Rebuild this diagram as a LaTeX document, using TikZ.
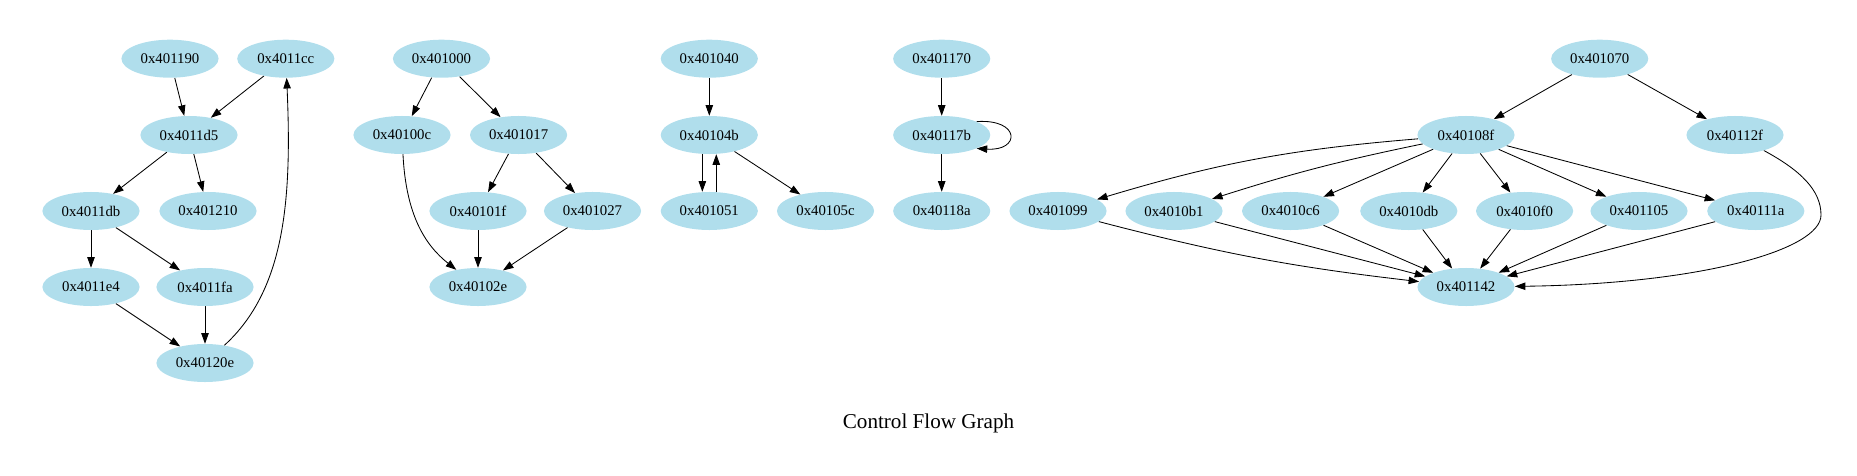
\documentclass[tikz,border=0pt]{standalone}
\usepackage{fontspec}
\setmainfont{Liberation Serif}
\usepackage{tikz}
\usetikzlibrary{shapes.geometric}
\usetikzlibrary{arrows.meta}
\definecolor{blockblue}{RGB}{176,222,236}
\pgfdeclarelayer{nodelayer}
\pgfdeclarelayer{edgelayer}
\pgfsetlayers{edgelayer,nodelayer,main}
\tikzstyle{none}=[inner sep=-1pt]
\tikzstyle{block}=[shape=ellipse, fill=blockblue, draw=none, minimum width=92pt, minimum height=36pt, inner sep=0pt, font=\fontsize{14}{16}\selectfont]
\tikzset{flow/.style={line width=.8pt, -{Triangle[length=10pt, width=7pt]}}}

\begin{document}
\begin{tikzpicture}[x=0.947pt, y=-0.947pt]
        \useasboundingbox (0, 0) rectangle (1857, 476);
        \begin{pgfonlayer}{nodelayer}
            \node [style=block] (0) at (170, 58.7) {0x401190};
            \node [style=block] (1) at (285.8, 58.7) {0x4011cc};
            \node [style=block] (2) at (189, 135) {0x4011d5};
            \node [style=block] (3) at (91, 211) {0x4011db};
            \node [style=block] (4) at (208, 211) {0x401210};
            \node [style=block] (5) at (91, 287) {0x4011e4};
            \node [style=block] (6) at (205, 287) {0x4011fa};
            \node [style=block] (7) at (205, 363) {0x40120e};
            \node [style=block] (8) at (441.5, 58.7) {0x401000};
            \node [style=block] (9) at (402, 135) {0x40100c};
            \node [style=block] (10) at (518.6, 135) {0x401017};
            \node [style=block] (11) at (478, 211) {0x40101f};
            \node [style=block] (12) at (592.5, 211) {0x401027};
            \node [style=block] (13) at (478, 287) {0x40102e};
            \node [style=block] (14) at (709.3, 58.7) {0x401040};
            \node [style=block] (15) at (709.3, 135) {0x40104b};
            \node [style=block] (16) at (709.3, 211) {0x401051};
            \node [style=block] (17) at (825.5, 211) {0x40105c};
            \node [style=block] (18) at (941.7, 58.7) {0x401170};
            \node [style=block] (19) at (941.7, 135) {0x40117b};
            \node [style=block] (20) at (941.7, 211) {0x40118a};
            \node [style=block] (21) at (1599.7, 58.7) {0x401070};
            \node [style=block] (22) at (1466, 135) {0x40108f};
            \node [style=block] (23) at (1735, 135) {0x40112f};
            \node [style=block] (24) at (1058, 211) {0x401099};
            \node [style=block] (25) at (1174, 211) {0x4010b1};
            \node [style=block] (26) at (1290.6, 211) {0x4010c6};
            \node [style=block] (27) at (1408.8, 211) {0x4010db};
            \node [style=block] (28) at (1524.6, 211) {0x4010f0};
            \node [style=block] (29) at (1639, 211) {0x401105};
            \node [style=block] (30) at (1755.8, 211) {0x40111a};
            \node [style=block] (31) at (1466, 287) {0x401142};
            \node [style=none, font=\fontsize{20}{24}\selectfont] (32) at (928.5, 423) {Control Flow Graph};
            \node [style=none] (33) at (1821, 215) {};
        \end{pgfonlayer}
        \begin{pgfonlayer}{edgelayer}
            \draw [style=flow] (0) to (2);
            \draw [style=flow] (1) to (2);
            \draw [style=flow] (2) to (3);
            \draw [style=flow] (2) to (4);
            \draw [style=flow] (3) to (5);
            \draw [style=flow] (3) to (6);
            \draw [style=flow] (5) to (7);
            \draw [style=flow] (6) to (7);
            \draw [style=flow] (7) .. controls (285, 290) and (292, 200) .. (1);
            \draw [style=flow] (8) to (9);
            \draw [style=flow] (8) to (10);
            \draw [style=flow] (9) .. controls (406, 215) and (425, 245) .. (13);
            \draw [style=flow] (10) to (11);
            \draw [style=flow] (10) to (12);
            \draw [style=flow] (11) to (13);
            \draw [style=flow] (12) to (13);
            \draw [style=flow] (14) to (15);
            \draw [style=flow] ([xshift=-6.6pt]15.south) to ([xshift=-6.6pt]16.north);
            \draw [style=flow] ([xshift=6.6pt]16.north) to ([xshift=6.6pt]15.south);
            \draw [style=flow] (15) to (17);
            \draw [style=flow] (18) to (19);
            \draw [style=flow] (19.21) .. controls +(44, -3) and +(44, 3) .. (19.-21);
            \draw [style=flow] (19) to (20);
            \draw [style=flow] (21) to (22);
            \draw [style=flow] (21) to (23);
            \draw [style=flow] (22) to [bend right=6] (24);
            \draw [style=flow] (22) to [bend right=3] (25);
            \draw [style=flow] (22) to (26);
            \draw [style=flow] (22) to (27);
            \draw [style=flow] (22) to (28);
            \draw [style=flow] (22) to (29);
            \draw [style=flow] (22) to (30);
            \draw [style=flow] (24) to [bend right=4] (31);
            \draw [style=flow] (25) to (31);
            \draw [style=flow] (26) to (31);
            \draw [style=flow] (27) to (31);
            \draw [style=flow] (28) to (31);
            \draw [style=flow] (29) to (31);
            \draw [style=flow] (30) to (31);
            \draw [style=flow] (23) .. controls (1800, 170) and (1821, 190) .. (33.center) .. controls (1821, 250) and (1700, 284) .. (31);
        \end{pgfonlayer}
\end{tikzpicture}
\end{document}
